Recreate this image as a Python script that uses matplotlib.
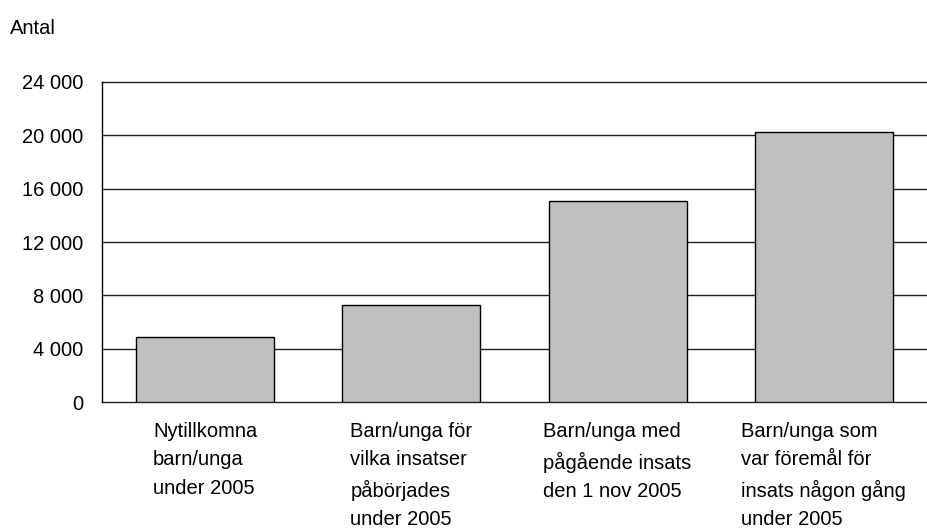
import matplotlib
matplotlib.use("Agg")
import matplotlib.pyplot as plt
import numpy as np

# Данные
categories = [
    "Nytillkomna\nbarn/unga\nunder 2005",
    "Barn/unga för\nvilka insatser\npåbörjades\nunder 2005",
    "Barn/unga med\npågående insats\nden 1 nov 2005",
    "Barn/unga som\nvar föremål för\ninsats någon gång\nunder 2005",
]
values = [4900, 7250, 15100, 20250]
yticks = [0, 4000, 8000, 12000, 16000, 20000, 24000]
ytick_labels = ["0", "4 000", "8 000", "12 000", "16 000", "20 000", "24 000"]

plt.rcParams['font.family'] = ['Liberation Sans', 'DejaVu Sans']

fig = plt.figure(figsize=(9.27, 5.29), dpi=100)
ax = fig.add_axes([0.110, 0.240, 0.890, 0.605])

x = np.arange(len(values)) + 0.5

# Горизонтальные линии сетки
for t in yticks:
    ax.axhline(t, color='#222222', linewidth=1.0, zorder=1, clip_on=False)

ax.bar(x, values, width=0.67, color='#c0c0c0', edgecolor='black', linewidth=1.0, zorder=2)

ax.set_xlim(0, 4)
ax.set_ylim(0, 24000)
ax.set_yticks(yticks)
ax.set_yticklabels(ytick_labels, fontsize=14.5)
ax.tick_params(axis='y', length=0, pad=13.5)
ax.set_xticks([])

for s in ['top', 'right', 'bottom']:
    ax.spines[s].set_visible(False)
ax.spines['left'].set_linewidth(1.0)

# Подписи категорий
for xi, lab in zip(x, categories):
    ax.text(xi, -1500, lab, ha='center', va='top', multialignment='left',
            fontsize=14.5, linespacing=1.62)

fig.text(10 / 927, 1 - 28 / 529, "Antal", ha='left', va='center', fontsize=14.5)

plt.savefig("out.png", dpi=100)
